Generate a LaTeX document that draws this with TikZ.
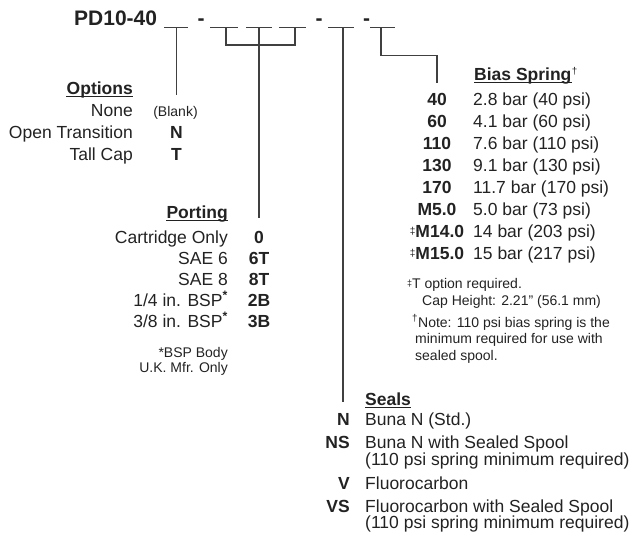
\documentclass[tikz,border=0pt]{standalone}
\usepackage{fontspec}
\setmainfont{Liberation Sans}
\definecolor{txtc}{HTML}{222222}
\definecolor{lnc}{HTML}{404040}
\newcommand\szM{\fontsize{17.5}{21}\selectfont}
\newcommand\szS{\fontsize{14}{16}\selectfont}
\newcommand\szL{\fontsize{21}{25}\selectfont}
\newcommand\ddg{\raisebox{3pt}{\fontsize{10}{10}\selectfont\mdseries ‡}}
\newcommand\smddg{\raisebox{2pt}{\fontsize{9}{9}\selectfont ‡}}
\begin{document}
\begin{tikzpicture}[x=1pt,y=-1pt,
  tx/.style={inner sep=0pt, text=txtc, font=\szM},
  lbl/.style={tx, anchor=base east},
  desc/.style={tx, anchor=base west},
  code/.style={tx, anchor=base, font=\szM\bfseries},
  rcode/.style={tx, anchor=base east, font=\szM\bfseries},
  head/.style={tx, font=\szM\bfseries},
  note/.style={tx, font=\szS},
  conn/.style={draw=lnc, line width=1.2pt},
  uline/.style={draw=txtc, line width=1.3pt}]
\useasboundingbox (0,0) rectangle (643,539);

% title and part-number template
\node[tx, font=\szL\bfseries, anchor=base west] (title) at (74,25) {PD10-40};
\node[tx, font=\szL\bfseries, anchor=base] (d1) at (201,25) {-};
\node[tx, font=\szL\bfseries, anchor=base] (d2) at (319,25) {-};
\node[tx, font=\szL\bfseries, anchor=base] (d3) at (366.5,25) {-};

\coordinate (b1l) at (164,27.7); \coordinate (b1r) at (188,27.7);
\coordinate (b2l) at (210,27.7); \coordinate (b2r) at (238,27.7);
\coordinate (b3l) at (246,27.7); \coordinate (b3r) at (272,27.7);
\coordinate (b4l) at (279,27.7); \coordinate (b4r) at (306,27.7);
\coordinate (b5l) at (328,27.7); \coordinate (b5r) at (354,27.7);
\coordinate (b6l) at (370,27.7); \coordinate (b6r) at (395,27.7);
\foreach \i in {1,...,6} {\draw[conn] (b\i l) -- (b\i r);}

% connectors
\coordinate (opt0) at (176.5,27.7); \coordinate (opt1) at (176.5,95);
\draw[conn] (opt0) -- (opt1);
\coordinate (pa) at (226,27.7); \coordinate (pb) at (295,27.7);
\coordinate (pc0) at (259,27.7); \coordinate (pc1) at (259,218);
\draw[conn] (pa) |- (260.5,45) -| (pb);
\draw[conn] (pc0) -- (pc1);
\coordinate (se0) at (343,27.7); \coordinate (se1) at (343,402);
\draw[conn] (se0) -- (se1);
\coordinate (bs0) at (381,27.7); \coordinate (bs1) at (437,83);
\draw[conn] (bs0) |- (409,55.7) -| (bs1);

% Options
\node[head, anchor=base east] (hopt) at (133,94) {Options};
\draw[uline] ([shift={(0,2.5)}]hopt.base west) -- ([shift={(0,2.5)}]hopt.base east);
\node[lbl] (o1) at (133,116) {None};
\node[lbl] (o2) at (133,138) {Open Transition};
\node[lbl] (o3) at (133,160) {Tall Cap};
\node[note, anchor=base] (oc1) at (175.5,116) {(Blank)};
\node[code] (oc2) at (176.5,138) {N};
\node[code] (oc3) at (176.5,160) {T};

% Porting
\node[head, anchor=base east] (hport) at (228,218) {Porting};
\draw[uline] ([shift={(0,2.5)}]hport.base west) -- ([shift={(0,2.5)}]hport.base east);
\node[lbl] (p1) at (228,243) {Cartridge Only};
\node[lbl] (p2) at (228,264) {SAE 6};
\node[lbl] (p3) at (228,285) {SAE 8};
\node[lbl] (p4) at (228,306) {1/4 in. BSP\textsuperscript{\bfseries *}};
\node[lbl] (p5) at (228,327) {3/8 in. BSP\textsuperscript{\bfseries *}};
\node[code] (pc1n) at (259,243) {0};
\node[code] (pc2n) at (259,264) {6T};
\node[code] (pc3n) at (259,285) {8T};
\node[code] (pc4n) at (259,306) {2B};
\node[code] (pc5n) at (259,327) {3B};
\node[note, anchor=base east] (pn1) at (228,357) {*BSP Body};
\node[note, anchor=base east] (pn2) at (228,372) {U.K. Mfr. Only};

% Bias Spring
\node[head, anchor=base west] (hbs) at (474,80) {Bias Spring};
\draw[uline] ([shift={(0,2.5)}]hbs.base west) -- ([shift={(0,2.5)}]hbs.base east);
\node[tx, font=\szS, anchor=base west] (hbsd) at (hbs.base east) {\textsuperscript{†}};
\foreach \c/\d/\y [count=\k] in {40/2.8 bar (40 psi)/105, 60/4.1 bar (60 psi)/127,
  110/7.6 bar (110 psi)/149, 130/9.1 bar (130 psi)/171, 170/11.7 bar (170 psi)/193,
  M5.0/5.0 bar (73 psi)/215, \ddg M14.0/14 bar (203 psi)/237, \ddg M15.0/15 bar (217 psi)/259} {
  \node[code] (bc\k) at (437,\y) {\c};
  \node[desc] (bd\k) at (473,\y) {\d};
}
\node[note, anchor=base west] (bn1) at (407,288) {\smddg T option required.};
\node[note, anchor=base west] (bn2) at (422,305) {Cap Height: 2.21{\char34} (56.1 mm)};
\node[note, anchor=base west] (bn3) at (412,327) {\textsuperscript{†}Note: 110 psi bias spring is the};
\node[note, anchor=base west] (bn4) at (415,343) {minimum required for use with};
\node[note, anchor=base west] (bn5) at (415,360) {sealed spool.};

% Seals
\node[head, anchor=base west] (hse) at (365,405) {Seals};
\draw[uline] ([shift={(0,2.5)}]hse.base west) -- ([shift={(0,2.5)}]hse.base east);
\node[rcode] (sc1) at (350,425) {N};
\node[desc] (sd1) at (365,425) {Buna N (Std.)};
\node[rcode] (sc2) at (350,448) {NS};
\node[desc] (sd2) at (365,448) {Buna N with Sealed Spool};
\node[desc] (sd2b) at (365,465) {(110 psi spring minimum required)};
\node[rcode] (sc3) at (350,489) {V};
\node[desc] (sd3) at (365,489) {Fluorocarbon};
\node[rcode] (sc4) at (350,512) {VS};
\node[desc] (sd4) at (365,512) {Fluorocarbon with Sealed Spool};
\node[desc] (sd4b) at (365,528) {(110 psi spring minimum required)};
\end{tikzpicture}
\end{document}
